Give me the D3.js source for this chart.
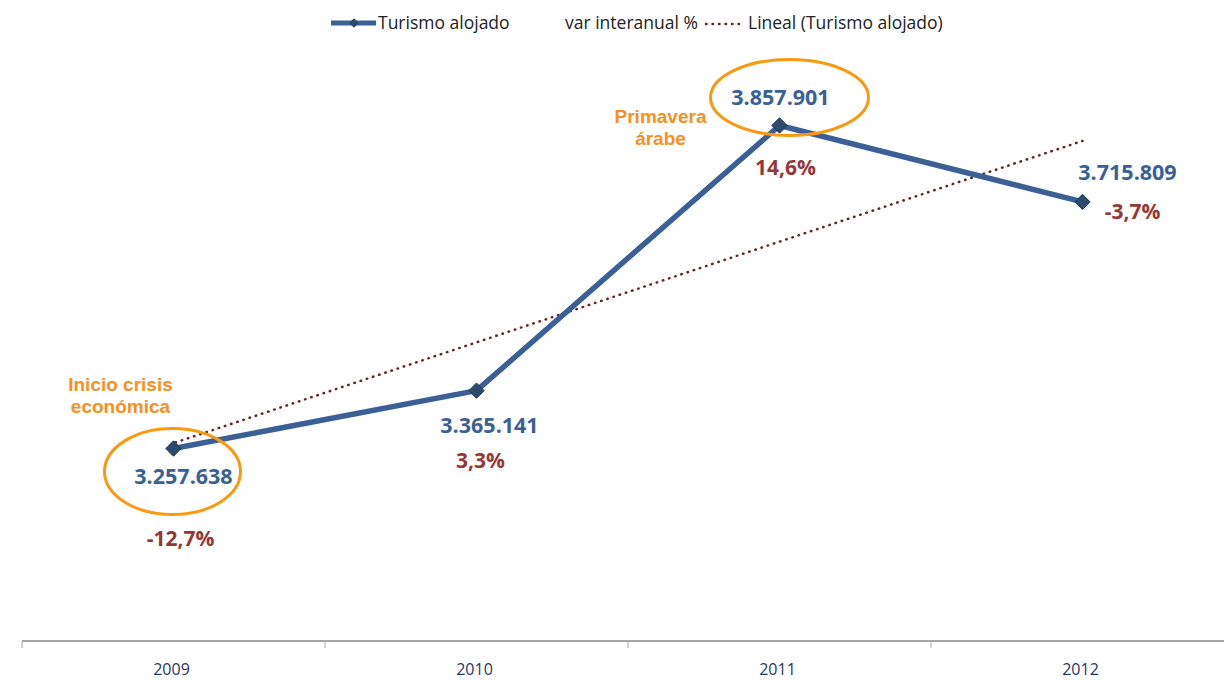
<!DOCTYPE html>
<html>
<head>
<meta charset="utf-8">
<script src="https://cdn.jsdelivr.net/npm/d3@7"></script>
<style>
  body { margin: 0; background: #fff; }
  svg { font-family: "Open Sans", Lato, "Liberation Sans", sans-serif; }
</style>
</head>
<body>
<svg id="chart"></svg>
<script>
const years = ["2009", "2010", "2011", "2012"];
const turismo = [3257638, 3365141, 3857901, 3715809];
const varInteranual = ["-12,7%", "3,3%", "14,6%", "-3,7%"];
const valueLabels = ["3.257.638", "3.365.141", "3.857.901", "3.715.809"];
const legendLabels = ["Turismo alojado", "var interanual %", "Lineal (Turismo alojado)"];

const width = 1224, height = 681;
const margin = {top: 49, right: 0, bottom: 40, left: 22};
const bandW = 303;

const svg = d3.select("#chart").attr("width", width).attr("height", height);

const x = d3.scaleBand().domain(years).range([margin.left, margin.left + bandW * years.length]);
const y = d3.scaleLinear().domain([2900000, 4000000]).range([height - margin.bottom, margin.top]);
const cx = d => x(d) + x.bandwidth() / 2;

// eje x
const axisY = y(2900000);
svg.append("line")
  .attr("x1", margin.left).attr("x2", width)
  .attr("y1", axisY).attr("y2", axisY)
  .attr("stroke", "#a6a6a6").attr("stroke-width", 2);
svg.selectAll(".tick-mark")
  .data(years)
  .join("line")
  .attr("x1", d => x(d)).attr("x2", d => x(d))
  .attr("y1", axisY).attr("y2", axisY + 7)
  .attr("stroke", "#a6a6a6").attr("stroke-width", 1);
svg.selectAll(".year")
  .data(years)
  .join("text")
  .attr("x", d => cx(d) - 2)
  .attr("y", axisY + 34)
  .attr("text-anchor", "middle")
  .attr("font-size", 16)
  .attr("fill", "#1f3864")
  .text(d => d);

// linea de tendencia (regresion lineal)
const n = turismo.length;
const xs = turismo.map((d, i) => i + 1);
const mx = d3.mean(xs), my = d3.mean(turismo);
const slope = d3.sum(xs, (v, i) => (v - mx) * (turismo[i] - my)) / d3.sum(xs, v => (v - mx) ** 2);
const intercept = my - slope * mx;
svg.append("line")
  .attr("x1", cx(years[0]) + 2).attr("y1", y(intercept + slope * 1))
  .attr("x2", cx(years[n - 1])).attr("y2", y(intercept + slope * n))
  .attr("stroke", "#632523").attr("stroke-width", 2.5)
  .attr("stroke-dasharray", "0.5,6").attr("stroke-linecap", "round");

// serie principal
const line = d3.line().x((d, i) => cx(years[i])).y(d => y(d));
svg.append("path")
  .datum(turismo)
  .attr("d", line)
  .attr("fill", "none")
  .attr("stroke", "#3a6096")
  .attr("stroke-width", 5.5)
  .attr("stroke-linejoin", "round");

svg.selectAll(".marker")
  .data(turismo)
  .join("path")
  .attr("d", d3.symbol(d3.symbolDiamond2, 150))
  .attr("transform", (d, i) => `translate(${cx(years[i])},${y(d)})`)
  .attr("fill", "#2b4a70")
  .attr("stroke", "#1d3553")
  .attr("stroke-width", 1);

// etiquetas de valor
const valueOffsets = [[10, 35], [13, 42], [1, -20], [45, -22]];
svg.selectAll(".vlabel")
  .data(valueLabels)
  .join("text")
  .attr("x", (d, i) => cx(years[i]) + valueOffsets[i][0])
  .attr("y", (d, i) => y(turismo[i]) + valueOffsets[i][1])
  .attr("text-anchor", "middle")
  .attr("font-size", 21.5)
  .attr("font-weight", "bold")
  .attr("fill", "#3a6096")
  .text(d => d);

const pctOffsets = [[7, 97], [4, 77], [6, 50], [50, 17]];
svg.selectAll(".plabel")
  .data(varInteranual)
  .join("text")
  .attr("x", (d, i) => cx(years[i]) + pctOffsets[i][0])
  .attr("y", (d, i) => y(turismo[i]) + pctOffsets[i][1])
  .attr("text-anchor", "middle")
  .attr("font-size", 21)
  .attr("font-weight", "bold")
  .attr("fill", "#953735")
  .text(d => d);

// elipses y anotaciones
const ellipses = [
  {i: 0, dx: -1, dy: 23, rx: 68, ry: 43},
  {i: 2, dx: 10, dy: -28, rx: 79, ry: 38}
];
svg.selectAll(".ell")
  .data(ellipses)
  .join("ellipse")
  .attr("cx", d => cx(years[d.i]) + d.dx)
  .attr("cy", d => y(turismo[d.i]) + d.dy)
  .attr("rx", d => d.rx).attr("ry", d => d.ry)
  .attr("fill", "none")
  .attr("stroke", "#f79a10")
  .attr("stroke-width", 3);

const notes = [
  {i: 0, dx: -53, dy: -58, lines: ["Inicio crisis", "económica"]},
  {i: 2, dx: -119, dy: -2, lines: ["Primavera", "árabe"]}
];
notes.forEach(nt => {
  const t = svg.append("text")
    .attr("x", cx(years[nt.i]) + nt.dx)
    .attr("y", y(turismo[nt.i]) + nt.dy)
    .attr("text-anchor", "middle")
    .style("font-family", "'Liberation Sans', Arial, sans-serif")
    .attr("font-size", 19)
    .attr("font-weight", "bold")
    .attr("fill", "#f7901e");
  nt.lines.forEach((l, k) => {
    t.append("tspan").attr("x", cx(years[nt.i]) + nt.dx).attr("dy", k === 0 ? 0 : 22).text(l);
  });
});

// leyenda
const lg = svg.append("g").attr("font-size", 17.5).attr("fill", "#222");
lg.append("line").attr("x1", 331).attr("x2", 376).attr("y1", 23).attr("y2", 23)
  .attr("stroke", "#3a6096").attr("stroke-width", 5);
lg.append("path").attr("d", d3.symbol(d3.symbolDiamond2, 60))
  .attr("transform", "translate(354,23)").attr("fill", "#2b4a70");
lg.append("text").attr("x", 378).attr("y", 29).text(legendLabels[0]);
lg.append("text").attr("x", 565).attr("y", 29).text(legendLabels[1]);
lg.append("line").attr("x1", 706).attr("x2", 742).attr("y1", 24).attr("y2", 24)
  .attr("stroke", "#632523").attr("stroke-width", 2.5)
  .attr("stroke-dasharray", "0.5,6").attr("stroke-linecap", "round");
lg.append("text").attr("x", 748).attr("y", 29).text(legendLabels[2]);
</script>
</body>
</html>
